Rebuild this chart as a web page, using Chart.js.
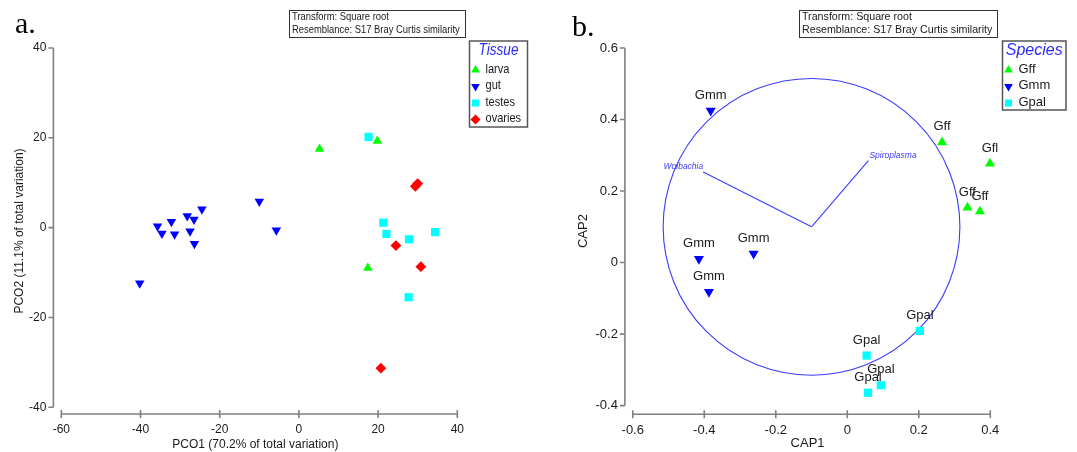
<!DOCTYPE html>
<html>
<head>
<meta charset="utf-8">
<script src="https://cdn.jsdelivr.net/npm/chart.js@4.4.0/dist/chart.umd.min.js"></script>
<style>
  html, body { margin: 0; padding: 0; background: #fff; }
  #wrap { position: relative; width: 1077px; height: 452px; }
  #pco { position: absolute; left: 0; top: 0; }
  #cap { position: absolute; left: 540px; top: 0; }
</style>
</head>
<body>
<div id="wrap">
  <canvas id="pco" width="540" height="452"></canvas>
  <canvas id="cap" width="537" height="452"></canvas>
</div>
<script>
// ---- panel a: PCO ordination ----
const tissues = ['larva', 'gut', 'testes', 'ovaries'];
const larvaX = [5.2, 19.8, 17.4];
const larvaY = [17.5, 19.3, -9.0];
const gutX = [-35.7, -34.6, -32.2, -31.4, -28.2, -26.5, -27.5, -24.5, -26.4, -10.0, -5.7, -40.2];
const gutY = [0.3, -1.3, 1.3, -1.5, 2.6, 1.8, -0.8, 4.1, -3.6, 5.8, -0.6, -12.4];
const testesX = [17.6, 21.3, 22.1, 27.8, 34.4, 27.7];
const testesY = [20.2, 1.1, -1.4, -2.6, -1.0, -15.5];
const ovariesX = [29.4, 30.0, 24.5, 30.8, 20.7];
const ovariesY = [9.2, 9.8, -4.0, -8.7, -31.3];
const pcoTicksX = [-60, -40, -20, 0, 20, 40];
const pcoTicksY = [-40, -20, 0, 20, 40];

// ---- panel b: CAP ordination ----
const species = ['Gff', 'Gmm', 'Gpal'];
const gffX = [0.265, 0.399, 0.336, 0.371];
const gffY = [0.336, 0.277, 0.154, 0.143];
const gffLabels = ['Gff', 'Gfl', 'Gff', 'Gff'];
const gmmX = [-0.382, -0.415, -0.262, -0.387];
const gmmY = [0.425, 0.010, 0.025, -0.082];
const gmmLabels = ['Gmm', 'Gmm', 'Gmm', 'Gmm'];
const gpalX = [0.203, 0.054, 0.094, 0.058];
const gpalY = [-0.191, -0.260, -0.343, -0.364];
const gpalLabels = ['Gpal', 'Gpal', 'Gpal', 'Gpal'];
const vectorNames = ['Wolbachia', 'Spiroplasma'];
const vectorX = [-0.403, 0.059];
const vectorY = [0.253, 0.285];
const vectorOrigin = [-0.1, 0.1];
const circleRadius = 0.415;
const capTicksX = [-0.6, -0.4, -0.2, 0, 0.2, 0.4];
const capTicksY = [-0.4, -0.2, 0, 0.2, 0.4, 0.6];

const GREEN = '#00ff00', BLUE = '#0000ff', CYAN = '#00ffff', RED = '#ff0000';
const VEC = '#3c3cff';
const TXT = '#1a1a1a';

Chart.defaults.font.family = "'Liberation Sans', Arial, sans-serif";
Chart.defaults.color = TXT;

const pts = (xs, ys) => xs.map((v, i) => ({ x: v, y: ys[i] }));

function marker(ctx, style, rot, x, y, r, color) {
  ctx.save();
  ctx.translate(x, y);
  ctx.rotate(rot * Math.PI / 180);
  ctx.fillStyle = color;
  ctx.beginPath();
  if (style === 'triangle') {
    for (let k = 0; k < 3; k++) {
      const a = k * 2 * Math.PI / 3;
      ctx.lineTo(Math.sin(a) * r, -Math.cos(a) * r);
    }
  } else if (style === 'rect') {
    const s = r * Math.SQRT1_2;
    ctx.rect(-s, -s, 2 * s, 2 * s);
  } else {
    ctx.moveTo(0, -r); ctx.lineTo(r, 0); ctx.lineTo(0, r); ctx.lineTo(-r, 0);
  }
  ctx.closePath();
  ctx.fill();
  ctx.restore();
}

// text squeezed horizontally (narrow face look)
function squeezed(ctx, text, x, y, sx, align) {
  ctx.save();
  ctx.translate(x, y);
  ctx.scale(sx, 1);
  ctx.textAlign = align || 'left';
  ctx.fillText(text, 0, 0);
  ctx.restore();
}

function drawAxes(chart, xTicks, yTicks) {
  const { ctx, chartArea } = chart;
  const xs = chart.scales.x, ys = chart.scales.y;
  const ax = chartArea.left, ay = chartArea.bottom;
  ctx.save();
  ctx.strokeStyle = '#808080';
  ctx.lineWidth = 1.6;
  ctx.beginPath();
  ctx.moveTo(ax, ys.getPixelForValue(yTicks[0]));
  ctx.lineTo(ax, ys.getPixelForValue(yTicks[yTicks.length - 1]));
  yTicks.forEach(v => {
    const p = ys.getPixelForValue(v);
    ctx.moveTo(ax - 5, p); ctx.lineTo(ax, p);
  });
  ctx.moveTo(xs.getPixelForValue(xTicks[0]), ay);
  ctx.lineTo(xs.getPixelForValue(xTicks[xTicks.length - 1]), ay);
  xTicks.forEach(v => {
    const p = xs.getPixelForValue(v);
    ctx.moveTo(p, ay - 4); ctx.lineTo(p, ay + 4);
  });
  ctx.stroke();
  ctx.restore();
}

function headerBox(ctx, x, y, w, h, sx) {
  ctx.save();
  ctx.strokeStyle = '#333';
  ctx.lineWidth = 1;
  ctx.strokeRect(x + 0.5, y + 0.5, w, h);
  ctx.fillStyle = TXT;
  ctx.font = "11px 'Liberation Sans', Arial, sans-serif";
  ctx.textBaseline = 'middle';
  squeezed(ctx, 'Transform: Square root', x + 3, y + 6.5, sx);
  squeezed(ctx, 'Resemblance: S17 Bray Curtis similarity', x + 3, y + 20, sx);
  ctx.restore();
}

function legendBox(chart, title, x, y, w, h, sx) {
  const ctx = chart.ctx;
  ctx.save();
  ctx.strokeStyle = '#555';
  ctx.lineWidth = 1.5;
  ctx.strokeRect(x, y, w, h);
  ctx.textBaseline = 'middle';
  ctx.fillStyle = '#2b2bff';
  ctx.font = "italic 16px 'Liberation Sans', Arial, sans-serif";
  squeezed(ctx, title, x + w / 2, y + 10, sx, 'center');
  ctx.font = "13px 'Liberation Sans', Arial, sans-serif";
  chart.data.datasets.forEach((ds, i) => {
    const iy = y + 28 + i * 16.5;
    marker(ctx, ds.pointStyle, ds.pointRotation || 0, x + 6, iy + 1, 5, ds.backgroundColor);
    ctx.fillStyle = TXT;
    squeezed(ctx, ds.label, x + 16, iy, sx);
  });
  ctx.restore();
}

function axisScales(min, max, ticks, yMin, yMax, yTicks, titleX, titleY, size, yPad, xPad, yWidth, xHeight) {
  const tickFont = { size: size };
  return {
    x: {
      type: 'linear', min: min, max: max,
      afterBuildTicks: s => { s.ticks = ticks.map(v => ({ value: v })); },
      afterFit: s => { s.height = xHeight; },
      grid: { display: false, drawTicks: false },
      border: { display: false },
      ticks: { autoSkip: false, maxRotation: 0, padding: 8, font: tickFont, color: TXT,
               callback: v => String(+v.toFixed(1)) },
      title: { display: true, text: titleX, font: tickFont, color: TXT, padding: { top: 0, bottom: xPad } }
    },
    y: {
      type: 'linear', min: yMin, max: yMax,
      afterBuildTicks: s => { s.ticks = yTicks.map(v => ({ value: v })); },
      afterFit: s => { s.width = yWidth; },
      grid: { display: false, drawTicks: false },
      border: { display: false },
      ticks: { autoSkip: false, padding: 7, font: tickFont, color: TXT,
               callback: v => String(+v.toFixed(1)) },
      title: { display: true, text: titleY, font: tickFont, color: TXT, padding: { top: yPad, bottom: 0 } }
    }
  };
}

function panelLetter(ctx, letter, x, y) {
  ctx.save();
  ctx.fillStyle = '#000';
  ctx.font = "30px 'Liberation Serif', 'Times New Roman', serif";
  ctx.textBaseline = 'alphabetic';
  ctx.fillText(letter, x, y);
  ctx.restore();
}

// ---------------- panel a ----------------
new Chart(document.getElementById('pco'), {
  type: 'scatter',
  data: {
    datasets: [
      { label: tissues[0], data: pts(larvaX, larvaY), pointStyle: 'triangle', pointRotation: 0, pointRadius: 5.5, backgroundColor: GREEN },
      { label: tissues[1], data: pts(gutX, gutY), pointStyle: 'triangle', pointRotation: 180, pointRadius: 5.5, backgroundColor: BLUE },
      { label: tissues[2], data: pts(testesX, testesY), pointStyle: 'rect', pointRotation: 0, pointRadius: 5.8, backgroundColor: CYAN },
      { label: tissues[3], data: pts(ovariesX, ovariesY), pointStyle: 'rectRot', pointRotation: 0, pointRadius: 5.4, backgroundColor: RED }
    ].map(d => Object.assign(d, { borderColor: d.backgroundColor, pointBorderWidth: 0, pointHoverRadius: d.pointRadius, clip: false }))
  },
  options: {
    responsive: false,
    animation: false,
    events: [],
    layout: { padding: { left: 0, top: 48, right: 82.7, bottom: 0 } },
    plugins: { legend: { display: false }, tooltip: { enabled: false } },
    scales: axisScales(-62, 40, pcoTicksX, -41.5, 40, pcoTicksY,
      'PCO1 (70.2% of total variation)', 'PCO2 (11.1% of total variation)', 12, 12.8, 0.4, 53.4, 38)
  },
  plugins: [{
    id: 'pcoDecor',
    beforeDatasetsDraw(chart) {
      drawAxes(chart, pcoTicksX, pcoTicksY);
    },
    afterDraw(chart) {
      const ctx = chart.ctx;
      panelLetter(ctx, 'a.', 15, 33);
      headerBox(ctx, 289, 10, 176, 27, 0.855);
      legendBox(chart, 'Tissue', 469.5, 41, 58, 86, 0.85);
    }
  }]
});

// ---------------- panel b ----------------
const capLabels = [gffLabels, gmmLabels, gpalLabels];
new Chart(document.getElementById('cap'), {
  type: 'scatter',
  data: {
    datasets: [
      { label: species[0], data: pts(gffX, gffY), pointStyle: 'triangle', pointRotation: 0, pointRadius: 5.8, backgroundColor: GREEN },
      { label: species[1], data: pts(gmmX, gmmY), pointStyle: 'triangle', pointRotation: 180, pointRadius: 5.8, backgroundColor: BLUE },
      { label: species[2], data: pts(gpalX, gpalY), pointStyle: 'rect', pointRotation: 0, pointRadius: 5.8, backgroundColor: CYAN }
    ].map(d => Object.assign(d, { borderColor: d.backgroundColor, pointBorderWidth: 0, pointHoverRadius: d.pointRadius, clip: false }))
  },
  options: {
    responsive: false,
    animation: false,
    events: [],
    layout: { padding: { left: 0, top: 48, right: 86.7, bottom: 0 } },
    plugins: { legend: { display: false }, tooltip: { enabled: false } },
    scales: axisScales(-0.622, 0.4, capTicksX, -0.424, 0.6, capTicksY,
      'CAP1', 'CAP2', 13, 35.2, 1.2, 84.9, 37.8)
  },
  plugins: [{
    id: 'capDecor',
    beforeDatasetsDraw(chart) {
      drawAxes(chart, capTicksX, capTicksY);
      const { ctx } = chart;
      const xs = chart.scales.x, ys = chart.scales.y;
      const ox = xs.getPixelForValue(vectorOrigin[0]);
      const oy = ys.getPixelForValue(vectorOrigin[1]);
      const rad = xs.getPixelForValue(vectorOrigin[0] + circleRadius) - ox;
      ctx.save();
      ctx.strokeStyle = VEC;
      ctx.lineWidth = 1.1;
      ctx.beginPath();
      ctx.arc(ox, oy, rad, 0, Math.PI * 2);
      ctx.stroke();
      ctx.fillStyle = VEC;
      ctx.font = "italic 8.5px 'Liberation Sans', Arial, sans-serif";
      ctx.textBaseline = 'alphabetic';
      vectorNames.forEach((name, i) => {
        const ex = xs.getPixelForValue(vectorX[i]);
        const ey = ys.getPixelForValue(vectorY[i]);
        ctx.beginPath();
        ctx.moveTo(ox, oy);
        ctx.lineTo(ex, ey);
        ctx.stroke();
        if (ex < ox) {
          ctx.textAlign = 'right';
          ctx.fillText(name, ex, ey - 3);
        } else {
          ctx.textAlign = 'left';
          ctx.fillText(name, ex + 1, ey - 3);
        }
      });
      ctx.restore();
    },
    afterDatasetsDraw(chart) {
      const ctx = chart.ctx;
      ctx.save();
      ctx.fillStyle = TXT;
      ctx.font = "13px 'Liberation Sans', Arial, sans-serif";
      ctx.textAlign = 'center';
      ctx.textBaseline = 'middle';
      capLabels.forEach((labels, i) => {
        chart.getDatasetMeta(i).data.forEach((el, j) => {
          ctx.fillText(labels[j], el.x, el.y - 15.5);
        });
      });
      ctx.restore();
    },
    afterDraw(chart) {
      const ctx = chart.ctx;
      panelLetter(ctx, 'b.', 32, 36);
      headerBox(ctx, 259, 10, 198, 27, 0.97);
      legendBox(chart, 'Species', 462.5, 41, 63.5, 69, 1);
    }
  }]
});
</script>
</body>
</html>
